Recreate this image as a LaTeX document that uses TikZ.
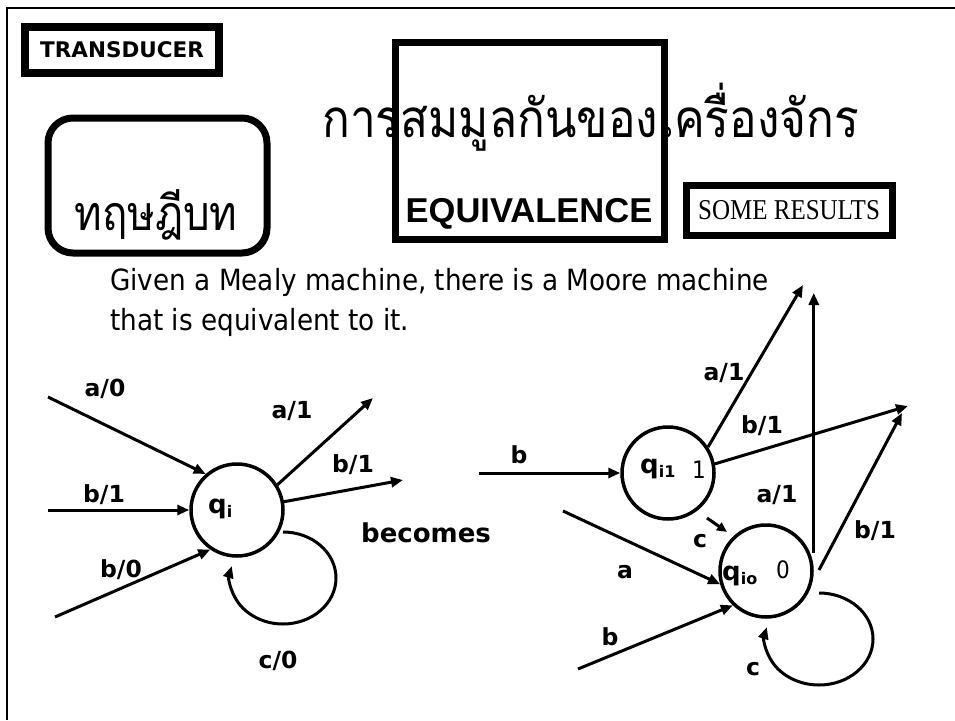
\documentclass[tikz,border=0pt]{standalone}
\usepackage{graphicx}
\usepackage{fontspec}
\setmainfont{Liberation Sans}
\newfontfamily\thaifont[Script=Thai]{Loma}
\newfontfamily\labfont{DejaVu Sans}
\newfontfamily\bodyfont{DejaVu Sans}[FakeStretch=0.9]
\newfontfamily\serfont{Liberation Serif}
\usetikzlibrary{arrows.meta}
\begin{document}
\begin{tikzpicture}[x=1pt,y=-1pt,
  frame/.style={line width=2.5pt},
  boxy/.style={draw,line width=7pt,inner sep=0pt},
  st/.style={draw,circle,line width=3.5pt,minimum size=92pt,inner sep=0pt},
  arr/.style={line width=3pt,-{Triangle[length=12pt,width=10pt]}},
  lp/.style={line width=3pt,-{Triangle[length=12pt,width=10pt]}},
  lab/.style={font=\labfont\bfseries\fontsize{23.5}{26}\selectfont,inner sep=0pt,anchor=base},
  qlab/.style={font=\labfont\bfseries\fontsize{26}{28}\selectfont,inner sep=0pt,anchor=base west},
  olab/.style={font=\bodyfont\fontsize{24}{26}\selectfont,inner sep=0pt,anchor=base west}]
\useasboundingbox (0,0) rectangle (955,720);
% frame
\draw[frame] (7,720) -- (7,8) -- (955,8);
% header boxes
\node[boxy,line width=8pt,minimum width=194pt,minimum height=46pt,font=\labfont\bfseries\fontsize{21.5}{23}\selectfont] (trans) at (122,50) {TRANSDUCER};
\node[boxy,rounded corners=25pt,minimum width=219pt,minimum height=135pt] (thm) at (157.5,185.5) {};
\node[font=\thaifont\fontsize{42}{46}\selectfont,anchor=base,inner sep=0pt] (thmtxt) at (156,230) {\scalebox{1}[1.15]{ทฤษฎีบท}};
\node[font=\thaifont\fontsize{46}{50}\selectfont,anchor=base west,inner sep=0pt] (title) at (322,137) {\scalebox{1}[1.15]{การสมมูลกันของเครื่องจักร}};
\node[boxy,minimum width=269pt,minimum height=197pt] (eqbox) at (529.5,140.5) {};
\node[font=\bfseries\fontsize{34.5}{38}\selectfont,anchor=base,inner sep=0pt] (eqtxt) at (529,222) {EQUIVALENCE};
\node[boxy,minimum width=206pt,minimum height=50pt] (some) at (789,210) {};
\node[font=\serfont\fontsize{25}{28}\selectfont,anchor=base,inner sep=0pt] (sometxt) at (789,219) {\scalebox{1}[1.15]{SOME RESULTS}};
% body text
\node[font=\bodyfont\fontsize{29.2}{32}\selectfont,anchor=base west,inner sep=0pt] (l1) at (110,290) {Given a Mealy machine, there is a Moore machine};
\node[font=\bodyfont\fontsize{29.2}{32}\selectfont,anchor=base west,inner sep=0pt] (l2) at (110,330) {that is equivalent to it.};
% left machine
\node[st] (qi) at (237,510) {};
\node[qlab] (qit) at (208,513) {q\raisebox{-4pt}{\fontsize{16}{17}\selectfont i}};
\coordinate (a0s) at (48,397);
\coordinate (b1s) at (48,510);
\coordinate (b0s) at (55,617);
\coordinate (a1e) at (373,398);
\coordinate (b1e) at (403,480);
\coordinate (lps) at (283,532);
\draw[arr] (a0s) -- (qi.131);
\draw[arr] (b1s) -- (qi.180);
\draw[arr] (b0s) -- (qi.236);
\draw[arr] (qi.32) -- (a1e);
\draw[arr] (qi.10) -- (b1e);
\draw[lp] (lps) arc[start angle=-90,end angle=195,x radius=53,y radius=46];
\node[lab] (la0) at (105,396) {a/0};
\node[lab] (lb1) at (104,502) {b/1};
\node[lab] (lb0) at (121,577) {b/0};
\node[lab] (la1) at (292,418) {a/1};
\node[lab] (lb1o) at (353,472) {b/1};
\node[lab] (lc0) at (278,668) {c/0};
\node[lab,font=\labfont\bfseries\fontsize{26}{28}\selectfont] (becomes) at (426,542) {becomes};
% right machine
\node[st] (q1) at (668,473) {};
\node[st] (q0) at (766,571) {};
\node[qlab] (q1t) at (640,473) {q\raisebox{-4pt}{\fontsize{16}{17}\selectfont i1}};
\node[olab] (q1o) at (692,478) {1};
\node[qlab] (q0t) at (722,580) {q\raisebox{-4pt}{\fontsize{16}{17}\selectfont io}};
\node[olab] (q0o) at (776,578) {0};
\coordinate (bin) at (479,473);
\coordinate (ta1) at (803,285);
\coordinate (tb1) at (908,406);
\coordinate (tv) at (812,293);
\coordinate (tb2) at (902,413);
\coordinate (b2s) at (819,570);
\coordinate (cs) at (707,518);
\coordinate (ce) at (727,532);
\coordinate (as) at (563,511);
\coordinate (bs) at (578,669);
\coordinate (lps2) at (819,593);
\draw[arr] (bin) -- (q1.180);
\draw[arr] (q1.33) -- (ta1);
\draw[arr] (q1.11) -- (tb1);
\draw[arr] (q0.east |- 0,553) -- (q0.east |- tv);
\draw[arr] (b2s) -- (tb2);
\draw[arr,-{Triangle[length=10pt,width=9pt]}] (cs) -- (ce);
\draw[arr] (as) -- (q0.196);
\draw[arr] (bs) -- (q0.226);
\draw[lp] (lps2) arc[start angle=-90,end angle=195,x radius=54,y radius=46];
\node[lab] (rb) at (519,463) {b};
\node[lab] (ra1) at (724,380) {a/1};
\node[lab] (rb1) at (762,433) {b/1};
\node[lab] (ra1b) at (777,502) {a/1};
\node[lab] (rb1b) at (875,538) {b/1};
\node[lab] (rc) at (700,547) {c};
\node[lab] (ra) at (625,578) {a};
\node[lab] (rbb) at (610,645) {b};
\node[lab] (rc2) at (753,675) {c};
\end{tikzpicture}
\end{document}
